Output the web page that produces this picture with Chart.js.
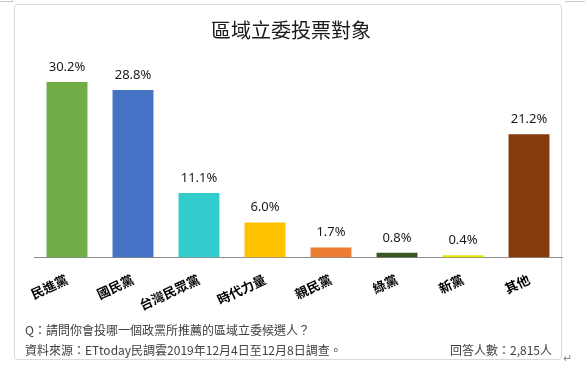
<!DOCTYPE html>
<html>
<head>
<meta charset="utf-8">
<script src="https://cdn.jsdelivr.net/npm/chart.js@4.4.0/dist/chart.umd.min.js"></script>
<style>
  html, body { margin: 0; padding: 0; background: #fff; }
  #wrap { position: relative; width: 585px; height: 378px; overflow: hidden; }
  #frame { position: absolute; left: 14px; top: 4px; width: 548px; height: 356px; border: 1px solid #d9d9d9; border-radius: 4px; box-sizing: border-box; }
  #c { position: absolute; left: 0; top: 0; }
  .txt { position: absolute; font-family: "Noto Sans CJK TC", sans-serif; font-size: 12px; color: #404040; white-space: nowrap; line-height: 16px; }
  #title { position: absolute; left: 191px; width: 200px; top: 16px; text-align: center; font-family: "Noto Sans CJK TC", sans-serif; font-size: 20px; line-height: 28px; color: #1a1a1a; }
  .mark { position: absolute; background: #c8c8c8; }
</style>
</head>
<body>
<div id="wrap">
  <div class="mark" style="left:0;top:1px;width:12px;height:1px;"></div>
  <div class="mark" style="left:12px;top:0;width:1px;height:2px;"></div>
  <div class="mark" style="left:565px;top:1px;width:20px;height:1px;"></div>
  <div id="frame"></div>
  <canvas id="c" width="585" height="378"></canvas>
  <div id="title"></div>
  <div class="txt" style="left:25px;top:322px;">Q：請問你會投哪一個政黨所推薦的區域立委候選人？</div>
  <div class="txt" style="left:25px;top:342px;">資料來源：ETtoday民調雲2019年12月4日至12月8日調查。</div>
  <div class="txt" style="right:33px;top:342px;">回答人數：2,815人</div>
  <div class="txt" style="left:563px;top:349px;color:#888;font-size:11px;">↵</div>
</div>
<script>
const categories = ["民進黨", "國民黨", "台灣民眾黨", "時代力量", "親民黨", "綠黨", "新黨", "其他"];
const values = [30.2, 28.8, 11.1, 6.0, 1.7, 0.8, 0.4, 21.2];
const barColors = ["#70AD47", "#4472C4", "#33CCCC", "#FFC000", "#ED7D31", "#375623", "#E6E600", "#843C0C"];
const titleText = "區域立委投票對象";

document.getElementById('title').textContent = titleText;

const valueLabels = {
  id: 'valueLabels',
  afterDatasetsDraw(chart) {
    const ctx = chart.ctx;
    const meta = chart.getDatasetMeta(0);
    ctx.save();
    ctx.font = '13px "Noto Sans", sans-serif';
    ctx.fillStyle = '#1a1a1a';
    ctx.textAlign = 'center';
    ctx.textBaseline = 'middle';
    meta.data.forEach((bar, i) => {
      ctx.fillText(values[i].toFixed(1) + '%', bar.x, bar.y - 15);
    });
    ctx.restore();
  }
};

new Chart(document.getElementById('c'), {
  type: 'bar',
  data: {
    labels: categories,
    datasets: [{
      data: values,
      backgroundColor: barColors,
      borderWidth: 0,
      barPercentage: 0.62,
      categoryPercentage: 1.0
    }]
  },
  options: {
    responsive: false,
    animation: false,
    events: [],
    layout: { padding: { left: 34, right: 23, top: 54, bottom: 0 } },
    plugins: {
      legend: { display: false },
      tooltip: { enabled: false },
      title: { display: false }
    },
    scales: {
      x: {
        grid: { display: false, drawTicks: false },
        border: { display: true, color: '#8c8c8c', width: 1 },
        ticks: {
          autoSkip: false,
          minRotation: 25,
          maxRotation: 25,
          padding: 14,
          color: '#000',
          font: { family: '"Noto Sans CJK TC", sans-serif', size: 13, weight: 'bold' }
        },
        afterFit(scale) { scale.height = 120.5; }
      },
      y: {
        display: false,
        min: 0,
        max: 35
      }
    }
  },
  plugins: [valueLabels]
});
</script>
</body>
</html>
